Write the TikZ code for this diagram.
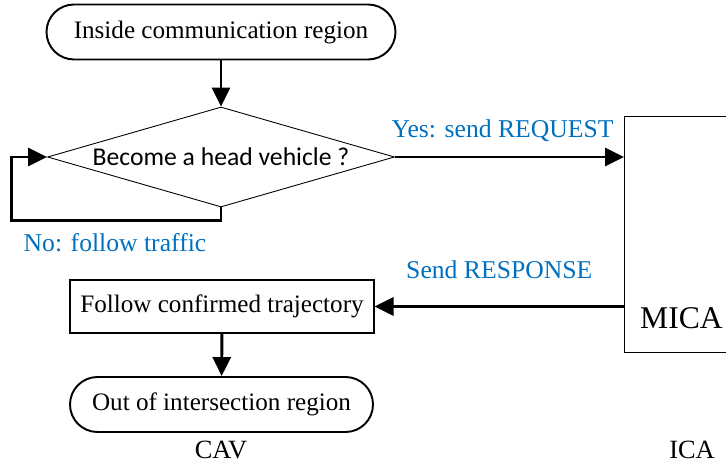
\documentclass[tikz,border=0pt]{standalone}
\usepackage{fontspec}
\setmainfont{Liberation Serif}
\newfontfamily\calibri{Carlito}
\usepackage{tikz}
\usetikzlibrary{positioning,calc,arrows.meta,shapes.geometric}
\definecolor{lblue}{RGB}{0,112,192}
\tikzset{terminal/.style={draw, line width=1.1pt, rounded corners=0.55cm, minimum height=1.1cm, inner sep=0pt, font=\fontsize{14.3}{16}\selectfont}}
\tikzset{procbox/.style={draw, line width=0.6pt, minimum height=1.06cm, inner sep=0pt, font=\fontsize{14.3}{16}\selectfont}}
\tikzset{decide/.style={draw, diamond, line width=0.5pt, aspect=3.47, inner sep=0pt, minimum width=6.94cm, minimum height=2cm, font=\calibri\fontsize{14.6}{16}\selectfont}}
\tikzset{arr/.style={draw, line width=1.7pt, -{Triangle[length=0.38cm,width=0.36cm]}}}
\tikzset{msg/.style={text=lblue, font=\fontsize{14.6}{16}\selectfont}}
\tikzset{side/.style={font=\fontsize{15}{17}\selectfont}}

\begin{document}
\begin{tikzpicture}
        \useasboundingbox (0,0) rectangle (14.52,-9.3);
        % CAV side
        \node[terminal, minimum width=6.98cm] (in) at (4.42,-0.64) {Inside communication region};
        \node[decide] (q) at (4.42,-3.14) {Become a head vehicle ?};
        \node[procbox, minimum width=6.08cm] (f) at (4.44,-6.13) {Follow confirmed trajectory};
        \node[terminal, minimum width=6.06cm] (out) at (4.43,-8.09) {Out of intersection region};
        % ICA side
        \node[draw, line width=0.6pt, anchor=north west, minimum width=2.8cm, minimum height=4.72cm] (mica) at (12.48,-2.32) {};
        \node[anchor=west, font=\fontsize{18}{20}\selectfont] (micat) at (12.68,-6.36) {MICA};
        \node[side] (cav) at (4.42,-9.0) {CAV};
        \node[side] (ica) at (13.84,-9.0) {ICA};

        \draw[arr] (in) -- (q);
        \draw[arr] (q.south) -- ++(0,-0.26) -| ([xshift=-0.72cm]q.west) -- (q.west);
        \node[msg] (no) at (2.3,-4.86) {No: follow traffic};
        \draw[arr] (q.east) --
            node[msg, above, pos=0.47, inner sep=8pt] (yes) {Yes: send REQUEST}
            (q.east -| mica.west);
        \draw[arr] (f.east -| mica.west) --
            node[msg, above, pos=0.5, inner sep=15pt] (resp) {Send RESPONSE}
            (f.east);
        \draw[arr] (f) -- (out);
    \end{tikzpicture}
\end{document}
